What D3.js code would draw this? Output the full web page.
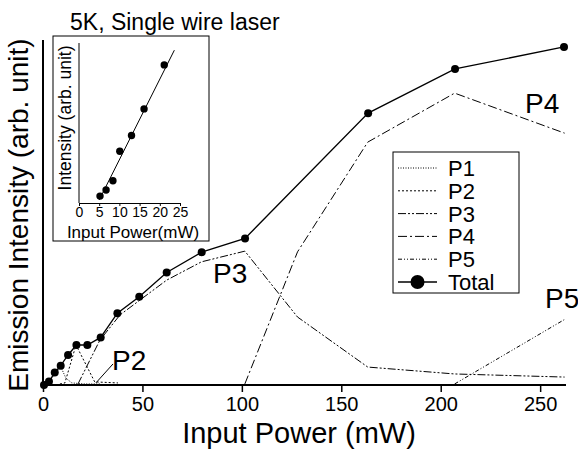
<!DOCTYPE html>
<html><head><meta charset="utf-8">
<script src="https://cdn.jsdelivr.net/npm/d3@7"></script>
<style>body{margin:0;background:#fff}svg{display:block;font-family:"Liberation Sans",Arial,sans-serif}</style>
</head><body><svg id="c" width="578" height="453"></svg>
<script>
// ---- data (arbitrary intensity units, 0-100) ----
const totalX = [0.5, 3, 5.9, 8.9, 12.6, 16.8, 22.3, 29, 37.4, 48.4, 62.2, 79.8, 101.6, 163.5, 207.2, 262];
const totalY = [0, 1.0, 3.6, 5.6, 8.7, 11.6, 11.6, 13.8, 20.8, 25.6, 32.6, 38.5, 42.5, 78.8, 91.6, 98];
const p1X = [0, 3, 6, 9, 11.5, 14.5, 21, 28.6];
const p1Y = [0, 0.9, 3.2, 5.2, 2.0, 0.6, 0.3, 0.3];
const p2X = [8.5, 11, 16.6, 26, 37.7];
const p2Y = [0.3, 0.6, 11.6, 0.9, 0.6];
const p3X = [17.6, 28.6, 38.7, 48.7, 62.2, 79.7, 101.5, 128, 163.3, 207, 262.3];
const p3Y = [0.3, 13, 20.3, 24.6, 30.4, 35.7, 38.8, 19.7, 5.2, 3.2, 2.3];
const p4X = [101.5, 128, 163.3, 207, 262.3];
const p4Y = [0.3, 38.6, 70.4, 84.6, 73];
const p5X = [207, 262.3];
const p5Y = [0.3, 19];
const xTicks = [0, 50, 100, 150, 200, 250];
// inset data
const insetX = [5.2, 6.7, 8.4, 10.1, 13.0, 16.1, 21.1];
const insetY = [4.3, 8.1, 13.9, 32.3, 42.2, 58.8, 86.3];
const insetFitX = [5.0, 23.6];
const insetFitY = [1.9, 95.5];
const insetTicks = [0, 5, 10, 15, 20, 25];
const legendNames = ["P1", "P2", "P3", "P4", "P5", "Total"];

const zip = (a, b) => a.map((v, i) => [v, b[i]]);
const svg = d3.select("#c");

// ---- main scales ----
const x = d3.scaleLinear().domain([0, 263]).range([43, 566]);
const y = d3.scaleLinear().domain([0, 100]).range([385, 40]);
const line = d3.line().x(d => x(d[0])).y(d => y(d[1]));

const styles = {
  P1: "1,1.5",
  P2: "2,2",
  P3: "8,2,2,2,2,2",
  P4: "9,3,2,3",
  P5: "4,2,1,2,1,2"
};
const series = [
  ["P1", zip(p1X, p1Y)], ["P2", zip(p2X, p2Y)], ["P3", zip(p3X, p3Y)],
  ["P4", zip(p4X, p4Y)], ["P5", zip(p5X, p5Y)]
];
series.forEach(([n, d]) => {
  svg.append("path").attr("d", line(d)).attr("fill", "none")
    .attr("stroke", "#000").attr("stroke-width", 1).attr("stroke-dasharray", styles[n]);
});
const tot = zip(totalX, totalY);
svg.append("path").attr("d", line(tot)).attr("fill", "none").attr("stroke", "#000").attr("stroke-width", 1.3);
svg.selectAll("circle.t").data(tot).join("circle").attr("class", "t")
  .attr("cx", d => x(d[0])).attr("cy", d => y(d[1])).attr("r", 4).attr("fill", "#000");

// axes
const xa = svg.append("g").attr("transform", "translate(0,385)")
  .call(d3.axisBottom(x).tickValues(xTicks).tickSize(7).tickPadding(5).tickFormat(d3.format("d")));
xa.select(".domain").remove();
xa.selectAll(".tick line").attr("stroke-width", 1.5);
xa.selectAll(".tick text").attr("font-size", 20).attr("font-family", "Liberation Sans, Arial, sans-serif");
svg.append("line").attr("x1", x(0) - 1).attr("x2", x(263)).attr("y1", 385).attr("y2", 385).attr("stroke", "#000").attr("stroke-width", 2);
svg.append("line").attr("x1", x(0)).attr("x2", x(0)).attr("y1", y(100)).attr("y2", 386).attr("stroke", "#000").attr("stroke-width", 2);

svg.append("text").attr("x", 299).attr("y", 443).attr("text-anchor", "middle").attr("font-size", 29).text("Input Power (mW)");
svg.append("text").attr("transform", "translate(28,215) rotate(-90)").attr("text-anchor", "middle").attr("font-size", 28).text("Emission Intensity (arb. unit)");
svg.append("text").attr("x", 70).attr("y", 30).attr("font-size", 23).text("5K, Single wire laser");

// peak labels
svg.append("text").attr("x", 112).attr("y", 370).attr("font-size", 28).text("P2");
svg.append("line").attr("x1", x(26.6)).attr("y1", y(0.6)).attr("x2", x(35.2)).attr("y2", y(6.1)).attr("stroke", "#000").attr("stroke-width", 1);
svg.append("text").attr("x", 213).attr("y", 283).attr("font-size", 28).text("P3");
svg.append("text").attr("x", 525).attr("y", 113).attr("font-size", 28).text("P4");
svg.append("text").attr("x", 545).attr("y", 308).attr("font-size", 28).text("P5");

// legend
const lg = svg.append("g");
lg.append("rect").attr("x", 393).attr("y", 152).attr("width", 126).attr("height", 141).attr("fill", "#fff").attr("stroke", "#000").attr("stroke-width", 1);
legendNames.forEach((n, i) => {
  const yy = 168 + i * 22.8;
  const l = lg.append("line").attr("x1", 398).attr("x2", 437).attr("y1", yy).attr("y2", yy).attr("stroke", "#000");
  if (n === "Total") { l.attr("stroke-width", 1.5); lg.append("circle").attr("cx", 417.5).attr("cy", yy).attr("r", 7).attr("fill", "#000"); }
  else l.attr("stroke-width", 1).attr("stroke-dasharray", styles[n]);
  lg.append("text").attr("x", 448).attr("y", yy + 8).attr("font-size", 22).text(n);
});

// ---- inset ----
const ins = svg.append("g");
ins.append("rect").attr("x", 53).attr("y", 36).attr("width", 156).attr("height", 205).attr("fill", "#fff").attr("stroke", "#000").attr("stroke-width", 1);
const ix = d3.scaleLinear().domain([0, 25]).range([79, 180]);
const iy = d3.scaleLinear().domain([0, 100]).range([203, 43]);
const ixa = ins.append("g").attr("transform", "translate(0,203)")
  .call(d3.axisBottom(ix).tickValues(insetTicks).tickSize(3).tickPadding(1).tickFormat(d3.format("d")));
ixa.select(".domain").attr("stroke-width", 1);
ixa.selectAll(".tick text").attr("font-size", 14).attr("font-family", "Liberation Sans, Arial, sans-serif");
ins.append("line").attr("x1", 79).attr("x2", 79).attr("y1", 43).attr("y2", 203).attr("stroke", "#000");
const il = d3.line().x(d => ix(d[0])).y(d => iy(d[1]));
ins.append("path").attr("d", il(zip(insetFitX, insetFitY))).attr("fill", "none").attr("stroke", "#000").attr("stroke-width", 1);
ins.selectAll("circle").data(zip(insetX, insetY)).join("circle")
  .attr("cx", d => ix(d[0])).attr("cy", d => iy(d[1])).attr("r", 3.7).attr("fill", "#000");
ins.append("text").attr("x", 133).attr("y", 238).attr("text-anchor", "middle").attr("font-size", 17).text("Input Power(mW)");
ins.append("text").attr("transform", "translate(71,118) rotate(-90)").attr("text-anchor", "middle").attr("font-size", 17.5).text("Intensity (arb. unit)");
</script></body></html>
